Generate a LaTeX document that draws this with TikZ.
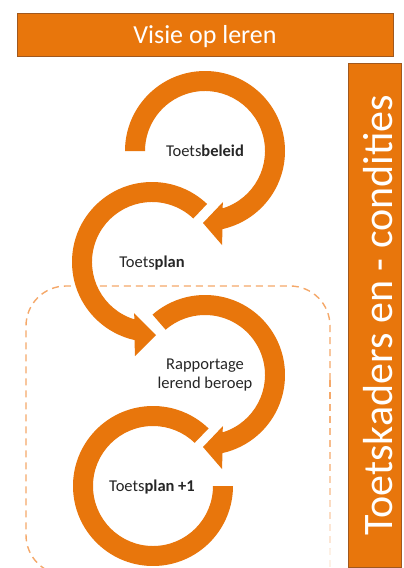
\documentclass[tikz,border=0pt]{standalone}
\usepackage{fontspec}
\setmainfont{Carlito}
\definecolor{ring}{RGB}{232,118,12}
\definecolor{barline}{RGB}{160,88,30}
\definecolor{dashline}{RGB}{245,168,105}
\definecolor{label}{RGB}{38,38,38}
\begin{document}
\begin{tikzpicture}[x=1pt,y=-1pt,
  bar/.style={draw=barline, line width=0.8pt, fill=ring, text=white, inner sep=0pt},
  ringlabel/.style={text=label, font=\fontsize{16.5}{19}\selectfont, align=center, inner sep=0pt},
  frame/.style={draw=dashline, line width=1.4pt, dash pattern=on 7pt off 5pt},
  ringfill/.style={fill=ring}]
\useasboundingbox (0,0) rectangle (404,568);
\clip (0,0) rectangle (404,568);
\fill[white] (0,0) rectangle (404,568);

% dashed frame around the lower cycle
\draw[frame] (330,380) -- (330,326) arc[start angle=0, end angle=-90, radius=40]
  -- (66,286) arc[start angle=270, end angle=180, radius=40]
  -- (26,535) arc[start angle=180, end angle=90, radius=40] -- (290,575);
% right side of the frame fades out downwards
\foreach \i [evaluate=\i as \op using 1-0.12*\i] in {0,...,7}{
  \draw[frame, draw opacity=\op] (330,{380+24*\i}) -- (330,{404+24*\i});
}

% Toetsplan +1 : open ring
\begin{scope}[shift={(153,486)}]
  \fill[ringfill] (314:80) arc[start angle=314, end angle=0, radius=80]
    -- (0:60) arc[start angle=0, end angle=314, radius=60] -- cycle;
\end{scope}
% Rapportage : clockwise arrow
\begin{scope}[shift={(205,375)}]
  \fill[ringfill] (229:80) arc[start angle=229, end angle=437.36, radius=80]
    -- (17,94) -- (-2,72) -- (18,51)
    -- (433.04:60) arc[start angle=433.04, end angle=229, radius=60] -- cycle;
\end{scope}
% Toetsplan : counter-clockwise arrow
\begin{scope}[shift={(152,262)}]
  \fill[ringfill] (313.5:80) arc[start angle=313.5, end angle=102.64, radius=80]
    -- (-17,94) -- (4,73) -- (-18,51)
    -- (106.96:60) arc[start angle=106.96, end angle=313.5, radius=60] -- cycle;
\end{scope}
% Toetsbeleid : clockwise arrow
\begin{scope}[shift={(205,151)}]
  \fill[ringfill] (180:80) arc[start angle=180, end angle=437.36, radius=80]
    -- (17,94) -- (-2,72) -- (18,51)
    -- (433.04:60) arc[start angle=433.04, end angle=180, radius=60] -- cycle;
\end{scope}

% labels inside the rings
\node[ringlabel] (beleid) at (205,151) {Toets\textbf{beleid}};
\node[ringlabel] (plan) at (152,263) {Toets\textbf{plan}};
\node[ringlabel] (rapport) at (205,375) {Rapportage\\lerend beroep};
\node[ringlabel] (planplus) at (152,487) {Toets\textbf{plan +1}};

% framing bars
\node[bar, minimum width=376pt, minimum height=43pt, text height=17pt, text depth=0pt,
  font=\fontsize{26}{30}\selectfont] (visie) at (205,34.5) {Visie op leren};
\node[bar, minimum width=504pt, minimum height=53pt, text height=35pt, text depth=0pt,
  rotate=90, font=\fontsize{42}{50}\selectfont] (kaders) at (374.5,315) {Toetskaders en - condities};
\end{tikzpicture}
\end{document}
